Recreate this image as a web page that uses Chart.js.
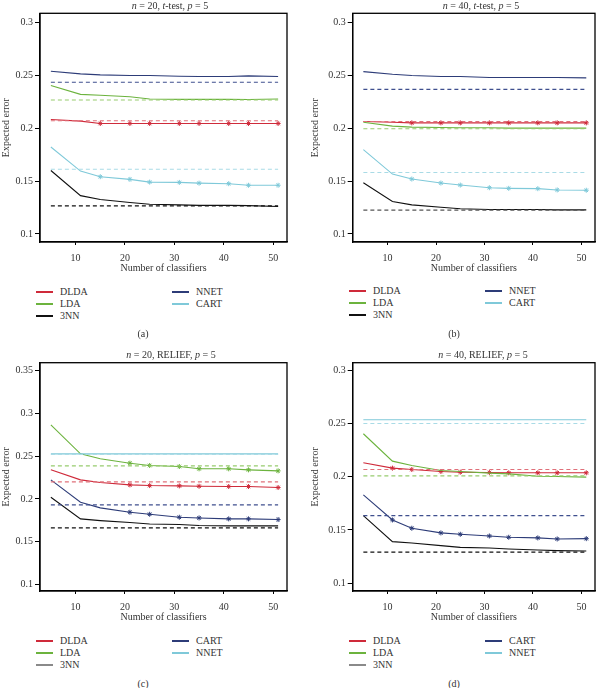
<!DOCTYPE html>
<html><head><meta charset="utf-8">
<script src="https://cdn.jsdelivr.net/npm/chart.js@4"></script>
<style>
body{margin:0;background:#fff;width:600px;height:688px;position:relative;overflow:hidden;font-family:"Liberation Serif","DejaVu Serif",serif;color:#333}
canvas{position:absolute}
.t{position:absolute;font-size:10px;white-space:nowrap;transform:translate(-50%,-50%)}
.lg{position:absolute;font-size:10px;white-space:nowrap;height:12px;line-height:12px}
.lg span.ln{position:absolute;left:0;top:5px;width:17px;height:1.5px}
.lg span.tx{position:absolute;left:24px;top:0}
</style></head><body>
<canvas id="ca" width="300" height="280" style="left:0;top:0"></canvas>
<canvas id="cb" width="300" height="280" style="left:300px;top:0"></canvas>
<canvas id="cc" width="300" height="289" style="left:0;top:340px"></canvas>
<canvas id="cd" width="300" height="289" style="left:300px;top:340px"></canvas>

<div class="t" style="left:170px;top:5px"><i>n</i> = 20, <i>t</i>-test, <i>p</i> = 5</div>
<div class="t" style="left:481px;top:5px"><i>n</i> = 40, <i>t</i>-test, <i>p</i> = 5</div>
<div class="t" style="left:171px;top:354px"><i>n</i> = 20, RELIEF, <i>p</i> = 5</div>
<div class="t" style="left:483px;top:354px"><i>n</i> = 40, RELIEF, <i>p</i> = 5</div>

<div id="legends"></div>

<div class="t" style="left:143px;top:333px">(a)</div>
<div class="t" style="left:454px;top:333px">(b)</div>
<div class="t" style="left:143px;top:683px">(c)</div>
<div class="t" style="left:454px;top:683px">(d)</div>

<script>
// ---- data ----
const xValues = [5, 11, 15, 21, 25, 31, 35, 41, 45, 51];
const xTicks = [10, 20, 30, 40, 50];
const xTickLabels = ['10', '20', '30', '40', '50'];
const yTicksShort = [0.1, 0.15, 0.2, 0.25, 0.3];
const yTickLabelsShort = ['0.1', '0.15', '0.2', '0.25', '0.3'];
const yTicksLong = [0.1, 0.15, 0.2, 0.25, 0.3, 0.35];
const yTickLabelsLong = ['0.1', '0.15', '0.2', '0.25', '0.3', '0.35'];

// (a) n = 20, t-test
const aDLDA = [0.2081, 0.2066, 0.2044, 0.2044, 0.2044, 0.2044, 0.2044, 0.2044, 0.2044, 0.2044];
const aLDA  = [0.2403, 0.2319, 0.2310, 0.2297, 0.2275, 0.2272, 0.2272, 0.2272, 0.2270, 0.2275];
const aNNET = [0.2538, 0.2513, 0.2503, 0.2497, 0.2497, 0.2490, 0.2488, 0.2488, 0.2494, 0.2488];
const aCART = [0.1822, 0.1594, 0.1541, 0.1516, 0.1490, 0.1487, 0.1480, 0.1475, 0.1460, 0.1460];
const a3NN  = [0.1600, 0.1362, 0.1325, 0.1297, 0.1280, 0.1275, 0.1270, 0.1270, 0.1268, 0.1260];
const aBase = [0.2069, 0.2266, 0.2434, 0.1612, 0.1266]; // DLDA, LDA, NNET, CART, 3NN

// (b) n = 40, t-test
const bDLDA = [0.2063, 0.2056, 0.2050, 0.2050, 0.2050, 0.2050, 0.2050, 0.2050, 0.2050, 0.2050];
const bLDA  = [0.2056, 0.2019, 0.2009, 0.2006, 0.2003, 0.2003, 0.2000, 0.2000, 0.2000, 0.2000];
const bNNET = [0.2534, 0.2509, 0.2497, 0.2488, 0.2488, 0.2478, 0.2478, 0.2478, 0.2478, 0.2475];
const bCART = [0.1797, 0.1566, 0.1519, 0.1481, 0.1462, 0.1437, 0.1431, 0.1428, 0.1416, 0.1413];
const b3NN  = [0.1484, 0.1306, 0.1275, 0.1253, 0.1238, 0.1231, 0.1231, 0.1231, 0.1228, 0.1228];
const bBase = [0.2063, 0.1994, 0.2366, 0.1581, 0.1225];

// (c) n = 20, RELIEF
const cDLDA = [0.2340, 0.2223, 0.2191, 0.2164, 0.2156, 0.2152, 0.2148, 0.2145, 0.2145, 0.2133];
const cLDA  = [0.2867, 0.2527, 0.2469, 0.2418, 0.2391, 0.2379, 0.2352, 0.2352, 0.2340, 0.2328];
const cCART = [0.2223, 0.1961, 0.1895, 0.1844, 0.1820, 0.1785, 0.1777, 0.1766, 0.1766, 0.1758];
const cNNET = [0.2527, 0.2527, 0.2527, 0.2527, 0.2527, 0.2527, 0.2527, 0.2527, 0.2527, 0.2527];
const c3NN  = [0.2020, 0.1766, 0.1746, 0.1723, 0.1707, 0.1700, 0.1688, 0.1684, 0.1684, 0.1684];
const cBase = [0.2199, 0.2387, 0.2519, 0.1930, 0.1660]; // DLDA, LDA, NNET, CART, 3NN

// (d) n = 40, RELIEF
const dDLDA = [0.2132, 0.2082, 0.2069, 0.2050, 0.2044, 0.2041, 0.2038, 0.2038, 0.2038, 0.2038];
const dLDA  = [0.2406, 0.2148, 0.2107, 0.2060, 0.2050, 0.2035, 0.2028, 0.2006, 0.2003, 0.1997];
const dCART = [0.1830, 0.1594, 0.1516, 0.1472, 0.1459, 0.1443, 0.1431, 0.1425, 0.1415, 0.1418];
const dNNET = [0.2538, 0.2538, 0.2538, 0.2538, 0.2538, 0.2538, 0.2538, 0.2538, 0.2538, 0.2538];
const d3NN  = [0.1635, 0.1390, 0.1377, 0.1352, 0.1336, 0.1330, 0.1321, 0.1311, 0.1305, 0.1302];
const dBase = [0.2069, 0.2009, 0.2503, 0.1635, 0.1292];

// ---- styling ----
const RED = '#cf2a3a', RED_D = '#e0707a';
const GREEN = '#6cb33e', GREEN_D = '#97cc6e';
const BLACK = '#111111', BLACK_D = '#111111';
const NAVY = '#2d3c78', NAVY_D = '#3f4f8e';
const CYAN = '#7fc9d9', CYAN_D = '#a9dbe6';
const GRAY = '#8a8a8a';
const FONT = '"Liberation Serif", "DejaVu Serif", serif';

function pts(arr) { return xValues.map((x, i) => ({x: x, y: arr[i]})); }
function flat(v) { return [{x: xValues[0], y: v}, {x: xValues[xValues.length - 1], y: v}]; }
function solid(arr, color, markFrom) {
  return {data: pts(arr), borderColor: color, backgroundColor: color, borderWidth: 1.1,
    pointStyle: 'star', pointRadius: xValues.map((x, i) => (markFrom != null && i >= markFrom) ? 2.5 : 0),
    pointBorderWidth: 1, pointBorderColor: color, tension: 0};
}
function dashed(v, color, w) {
  return {data: flat(v), borderColor: color, borderWidth: w || 1.1, borderDash: [4, 3], pointRadius: 0, tension: 0};
}

const frame = {
  id: 'frame',
  afterDraw(chart) {
    const a = chart.chartArea, ctx = chart.ctx;
    ctx.save(); ctx.strokeStyle = '#000'; ctx.lineWidth = 1.3;
    ctx.strokeRect(a.left, a.top, a.right - a.left, a.bottom - a.top);
    ctx.restore();
  }
};

function makeChart(id, datasets, cfg) {
  new Chart(document.getElementById(id), {
    type: 'line',
    data: {datasets: datasets},
    options: {
      responsive: false, animation: false, devicePixelRatio: 1,
      layout: {padding: {top: cfg.top, right: cfg.right, left: 0, bottom: 0}},
      plugins: {legend: {display: false}, tooltip: {enabled: false}},
      scales: {
        x: {type: 'linear', min: 2.8, max: 52.8,
          afterBuildTicks: s => { s.ticks = xTicks.map(v => ({value: v})); },
          afterFit: s => { s.height = 38; },
          grid: {drawOnChartArea: false, drawTicks: true, tickLength: 3, color: '#000'},
          border: {display: true, color: '#000', width: 1.3},
          ticks: {font: {family: FONT, size: 10}, color: '#333', padding: 7, maxRotation: 0,
            callback: (v) => xTickLabels[xTicks.indexOf(v)]},
          title: {display: true, text: 'Number of classifiers', font: {family: FONT, size: 10}, color: '#333', padding: {top: 0, bottom: 6}}
        },
        y: {type: 'linear', min: cfg.ymin, max: cfg.ymax,
          afterBuildTicks: s => { s.ticks = cfg.yt.map(v => ({value: v})); },
          afterFit: s => { s.width = cfg.yw; },
          grid: {drawOnChartArea: false, drawTicks: true, tickLength: 5, color: '#000'},
          border: {display: true, color: '#000', width: 1.3},
          ticks: {font: {family: FONT, size: 10}, color: '#333', padding: 2,
            callback: (v) => cfg.yl[cfg.yt.findIndex(t => Math.abs(t - v) < 1e-9)]},
          title: {display: true, text: 'Expected error', font: {family: FONT, size: 10}, color: '#333', padding: {top: cfg.ytp, bottom: 0}}
        }
      }
    },
    plugins: [frame]
  });
}

makeChart('ca', [
  dashed(aBase[2], NAVY_D), dashed(aBase[1], GREEN_D), dashed(aBase[0], RED_D), dashed(aBase[3], CYAN_D), dashed(aBase[4], BLACK_D, 1.3),
  solid(aNNET, NAVY), solid(aLDA, GREEN), solid(aDLDA, RED, 2), solid(aCART, CYAN, 2), solid(a3NN, BLACK)
], {top: 13.3, right: 13, yw: 40, ytp: 0, ymin: 0.0924, ymax: 0.3085, yt: yTicksShort, yl: yTickLabelsShort});

makeChart('cb', [
  dashed(bBase[2], NAVY_D), dashed(bBase[1], GREEN_D), dashed(bBase[0], RED_D), dashed(bBase[3], CYAN_D), dashed(bBase[4], '#555', 1.3),
  solid(bNNET, NAVY), solid(bLDA, GREEN), solid(bDLDA, RED, 2), solid(bCART, CYAN, 2), solid(b3NN, BLACK)
], {top: 13.3, right: 1, yw: 52.7, ytp: 9, ymin: 0.0924, ymax: 0.3085, yt: yTicksShort, yl: yTickLabelsShort});

makeChart('cc', [
  dashed(cBase[2], CYAN_D), dashed(cBase[1], GREEN_D), dashed(cBase[0], RED_D), dashed(cBase[3], NAVY_D), dashed(cBase[4], BLACK_D, 1.3),
  solid(cNNET, CYAN), solid(cLDA, GREEN, 3), solid(cDLDA, RED, 3), solid(cCART, NAVY, 3), solid(c3NN, BLACK)
], {top: 22.7, right: 13, yw: 40, ytp: 0, ymin: 0.0922, ymax: 0.3594, yt: yTicksLong, yl: yTickLabelsLong});

makeChart('cd', [
  dashed(dBase[2], CYAN_D), dashed(dBase[1], GREEN_D), dashed(dBase[0], RED_D), dashed(dBase[3], NAVY_D), dashed(dBase[4], BLACK_D, 1.3),
  solid(dNNET, CYAN), solid(dLDA, GREEN), solid(dDLDA, RED, 1), solid(dCART, NAVY, 1), solid(d3NN, BLACK)
], {top: 22.7, right: 1, yw: 52.7, ytp: 9, ymin: 0.0925, ymax: 0.3075, yt: yTicksShort, yl: yTickLabelsShort});

// ---- legends (HTML) ----
const legendTopNames = ['DLDA', 'LDA', '3NN', 'NNET', 'CART'];
const legendTopColors = [RED, GREEN, BLACK, NAVY, CYAN];
const legendBottomNames = ['DLDA', 'LDA', '3NN', 'CART', 'NNET'];
const legendBottomColors = [RED, GREEN, GRAY, NAVY, CYAN];
function legend(names, colors, x1, x2, y0) {
  const host = document.getElementById('legends');
  names.forEach((name, i) => {
    const col = i < 3 ? 0 : 1, row = i < 3 ? i : i - 3;
    const d = document.createElement('div');
    d.className = 'lg';
    d.style.left = (col ? x2 : x1) + 'px';
    d.style.top = Math.round(y0 - 6 + row * 12) + 'px';
    const ln = document.createElement('span');
    ln.className = 'ln';
    ln.style.backgroundColor = colors[i];
    const tx = document.createElement('span');
    tx.className = 'tx';
    tx.textContent = name;
    d.appendChild(ln); d.appendChild(tx);
    host.appendChild(d);
  });
}
legend(legendTopNames, legendTopColors, 36, 172, 292);
legend(legendTopNames, legendTopColors, 349, 485, 291);
legend(legendBottomNames, legendBottomColors, 36, 172, 641);
legend(legendBottomNames, legendBottomColors, 349, 485, 641);
</script>
</body></html>
